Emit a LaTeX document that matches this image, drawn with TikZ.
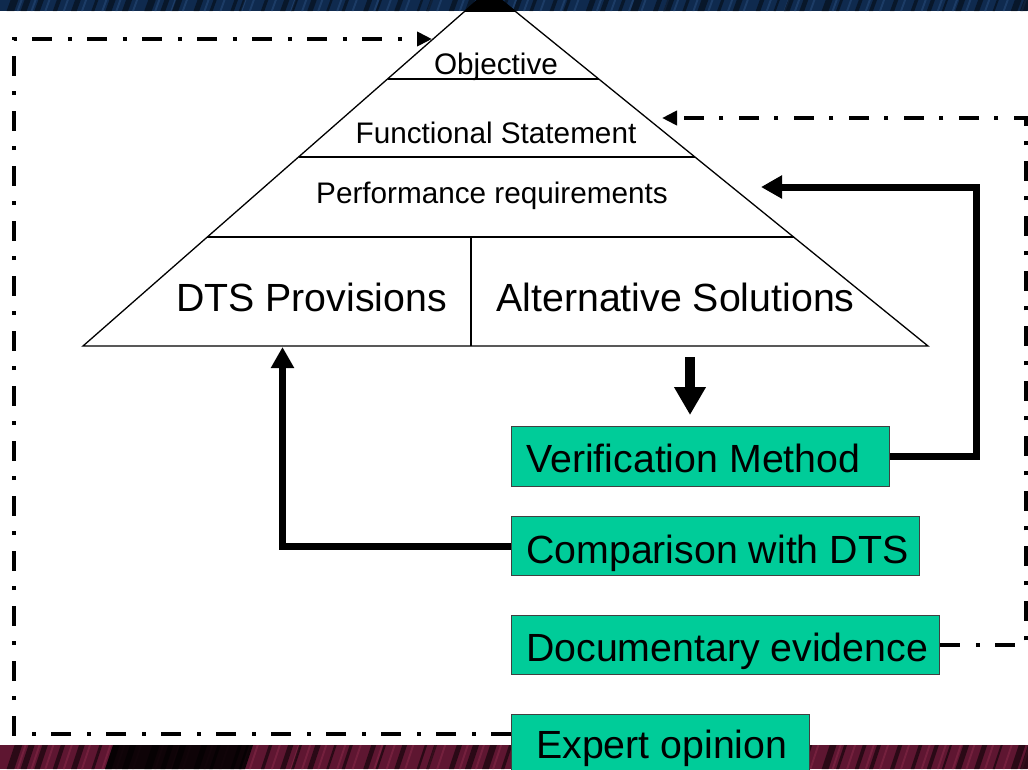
\documentclass[tikz,border=0pt]{standalone}
\usepackage{fontspec}
\setmainfont{Liberation Sans}
\usetikzlibrary{arrows.meta,calc}
\definecolor{boxgreen}{HTML}{00CC99}
\definecolor{navyband}{HTML}{0F2A4E}
\definecolor{navylight}{HTML}{2A4F7F}
\definecolor{wineband}{HTML}{5E1631}
\definecolor{winelight}{HTML}{8A2A4A}
\tikzset{
  smalltext/.style={font=\fontsize{29.7}{34}\selectfont, inner sep=0pt},
  bigtext/.style={font=\fontsize{39.3}{44}\selectfont, inner sep=0pt},
  gbox/.style={draw=black!75, fill=boxgreen, line width=1.3pt, inner sep=0pt, anchor=north west},
  feed/.style={line width=7pt, line join=miter, -{Triangle[length=21pt,width=22pt]}},
  dashdot/.style={line width=4pt, dash pattern=on 20pt off 15.5pt on 4pt off 15.5pt,
                  -{Triangle[length=15pt,width=14pt]}},
  pyr/.style={line width=1.3pt},
  pushdown/.style={line width=10pt, -{Triangle[length=28pt,width=30pt]},
                   shorten <=11pt, shorten >=11pt}
}
\begin{document}
\begin{tikzpicture}[x=1pt,y=-1pt]
\useasboundingbox (0,0) rectangle (1028,769);
\begin{scope}
\clip (0,0) rectangle (1028,769);

% slide background bands with slanted streaks
\fill[navyband] (0,0) rectangle (1028,11);
\fill[wineband] (0,745) rectangle (1028,769);
\pgfmathsetseed{11}
\foreach \i in {0,...,62} {
  \pgfmathsetmacro\xx{\i*17+rnd*10}
  \pgfmathsetmacro\ww{2+rnd*6}
  \fill[black, opacity=0.55] (\xx,769) -- (\xx+\ww,769) -- (\xx+\ww+8,745) -- (\xx+8,745) -- cycle;
  \fill[winelight, opacity=0.5] (\xx+10,769) -- (\xx+12,769) -- (\xx+20,745) -- (\xx+18,745) -- cycle;
  \fill[black, opacity=0.45] (\xx,11) -- (\xx+\ww,11) -- (\xx+\ww+4,0) -- (\xx+4,0) -- cycle;
  \fill[navylight, opacity=0.5] (\xx+10,11) -- (\xx+12,11) -- (\xx+16,0) -- (\xx+14,0) -- cycle;
}
\fill[black, opacity=0.85] (105,769) -- (245,769) -- (253,745) -- (113,745) -- cycle;

% pyramid
\coordinate (apex) at (489,-10);
\coordinate (bl) at (83,346);
\coordinate (br) at (928,346);
\begin{scope}
  \clip (0,0) rectangle (1028,11);
  \fill[black] (apex) -- (bl) -- (br) -- cycle;
\end{scope}
\draw[pyr] (apex) -- (bl) -- (br) -- cycle;
\coordinate (l1) at ($(apex)!0.25!(bl)$);  \coordinate (r1) at ($(apex)!0.25!(br)$);
\coordinate (l2) at ($(apex)!0.469!(bl)$); \coordinate (r2) at ($(apex)!0.469!(br)$);
\coordinate (l3) at ($(apex)!0.694!(bl)$); \coordinate (r3) at ($(apex)!0.694!(br)$);
\draw[pyr] (l1) -- (r1);
\draw[pyr] (l2) -- (r2);
\draw[pyr] (l3) -- (r3);
\coordinate (divtop) at (471,237);
\draw[pyr] (divtop) -- (divtop |- bl);

\node[smalltext, anchor=base] (obj)  at (496,74)  {Objective};
\node[smalltext, anchor=base] (func) at (496,143) {Functional Statement};
\node[smalltext, anchor=base] (perf) at (492,203) {Performance requirements};
\node[bigtext, anchor=base] (dts) at (311.5,311) {DTS Provisions};
\node[bigtext, anchor=base] (alt) at (675.5,311) {Alternative Solutions};

% verification boxes
\node[gbox, minimum width=378pt, minimum height=60pt] (vm)  at (511,426) {};
\node[bigtext, anchor=base west] (vmt) at (526,472) {Verification Method};
\node[gbox, minimum width=408pt, minimum height=59pt] (cmp) at (511,516) {};
\node[bigtext, anchor=base west] (cmpt) at (526,563) {Comparison with DTS};
\node[gbox, minimum width=428pt, minimum height=59pt] (doc) at (511,615) {};
\node[bigtext, anchor=base west] (doct) at (526,661) {Documentary evidence};
\node[gbox, minimum width=298pt, minimum height=60pt] (exp) at (511,714) {};
\node[bigtext, anchor=base west] (expt) at (536,758) {Expert opinion};

% connectors
\coordinate (dn) at (690,346);
\draw[pushdown] (dn) -- (dn |- vm.north);

\coordinate (rtcorner) at (976,187);
\coordinate (perfin) at (761,187);
\draw[feed] (vm.east) -| (rtcorner) -- (perfin);

\coordinate (dtsin) at (282.5,347);
\draw[feed] (cmp.west) -| (dtsin);

\coordinate (rfar) at (1026,118);
\coordinate (funcin) at (662,118);
\draw[dashdot] (doc.east) -| (rfar) -- (funcin);

\coordinate (lfar) at (14,39);
\coordinate (objin) at (432,39);
\draw[dashdot] ([yshift=11pt]exp.west) -| (lfar) -- (objin);
\end{scope}
\end{tikzpicture}
\end{document}
